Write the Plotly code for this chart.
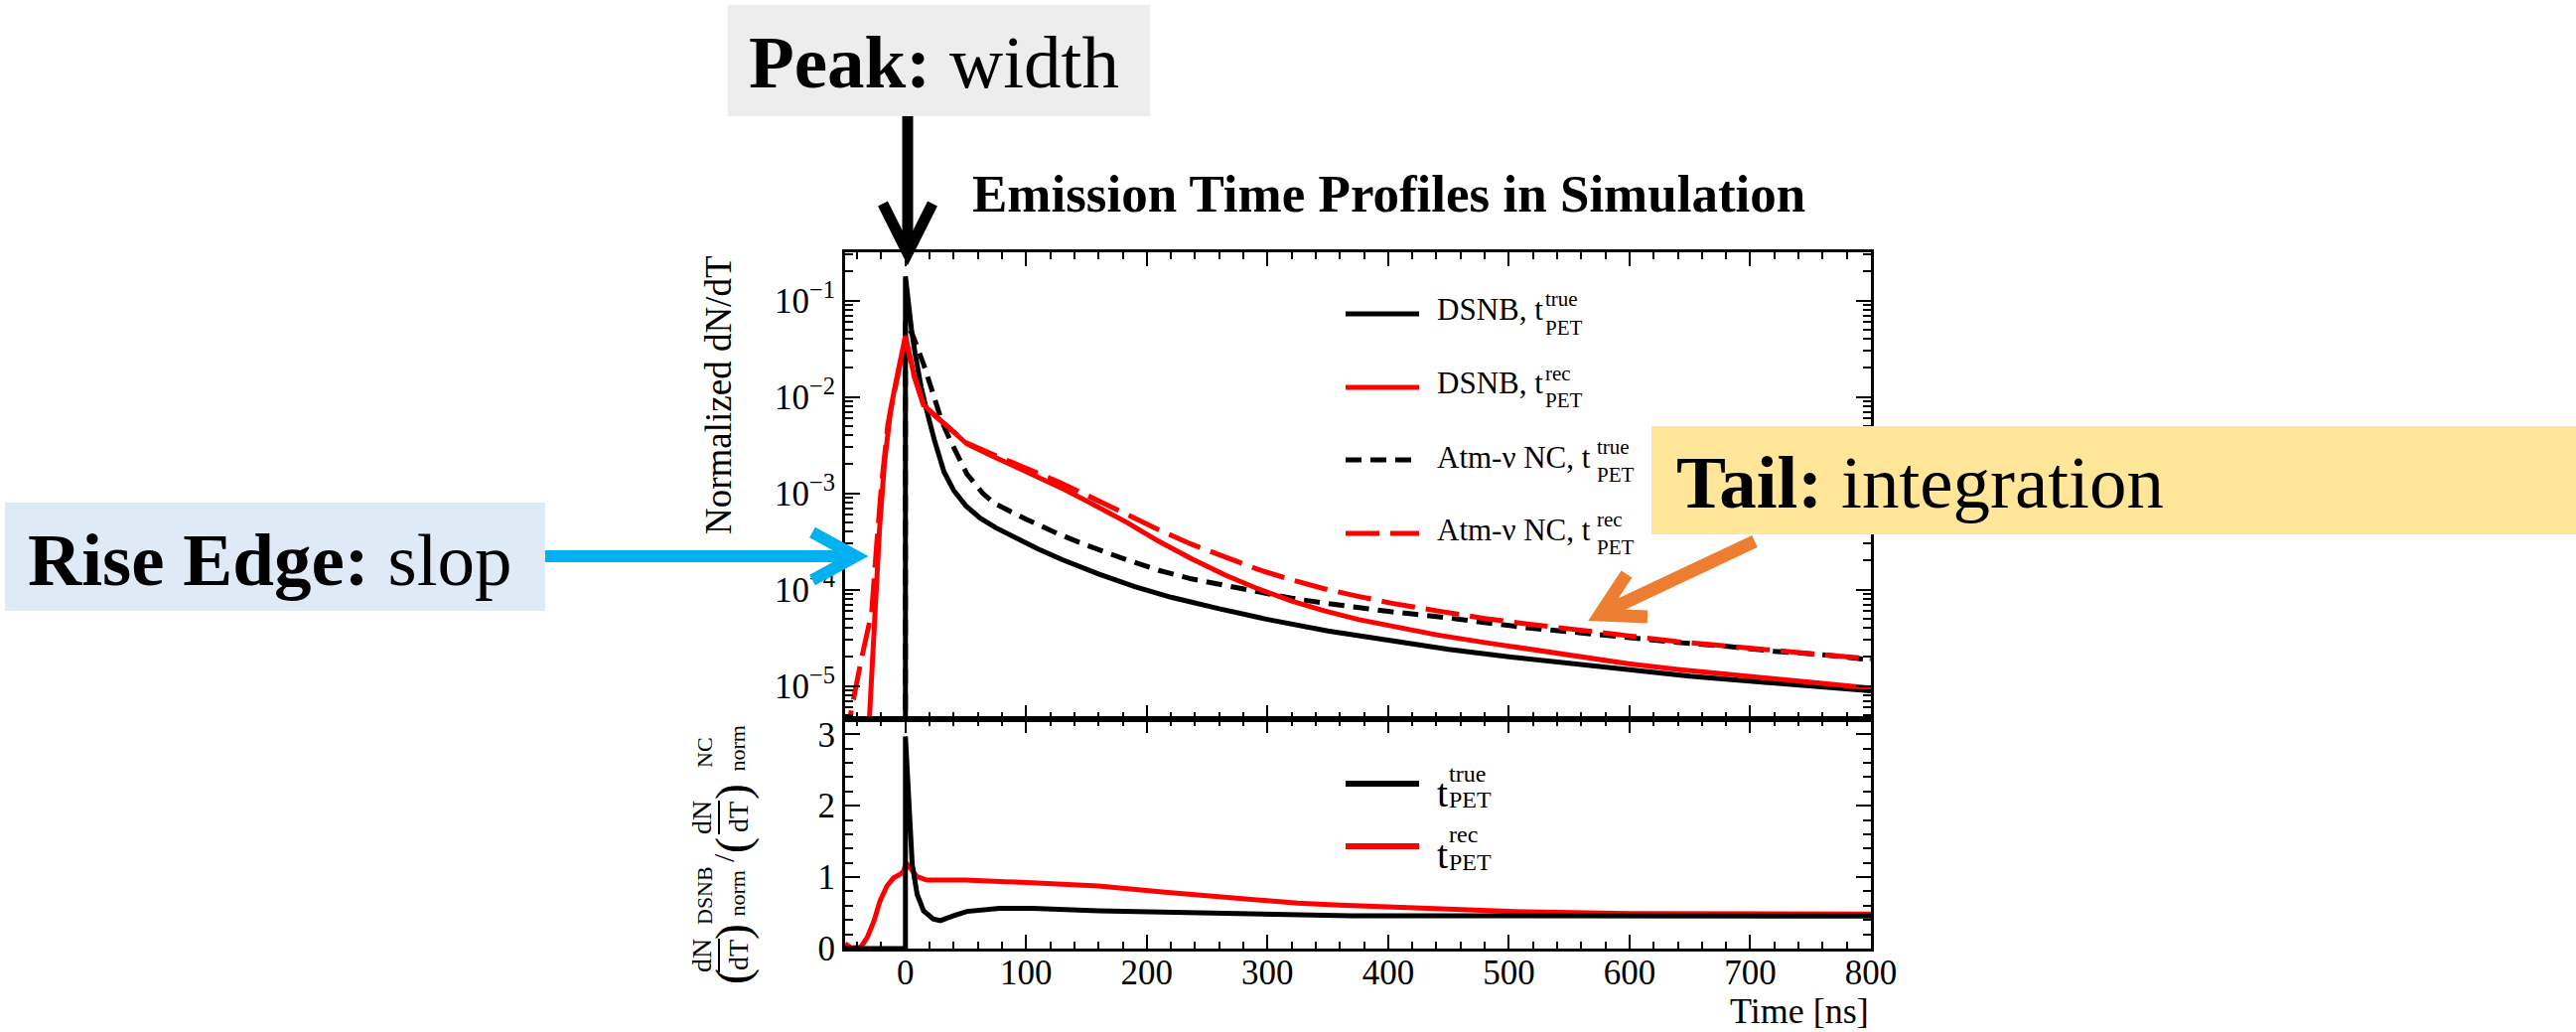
import plotly.graph_objects as go

# ---------------- data ----------------
# upper panel: normalized dN/dT (log scale); 1e-9 marks "zero" (below axis floor)
t_dsnb_true = [-50, 0, 0, 2.5, 5, 8, 13, 18, 24, 32, 40, 50, 62, 75, 90, 110, 130, 160, 190,
               220, 260, 300, 350, 400, 450, 500, 550, 600, 650, 700, 750, 800]
dsnb_true = [1e-9, 1e-9, 0.178, 0.0891, 0.0501, 0.0282, 0.0126, 0.00692, 0.00355, 0.00166,
             0.00107, 7.41e-4, 5.50e-4, 4.37e-4, 3.47e-4, 2.63e-4, 2.04e-4, 1.45e-4, 1.07e-4,
             8.32e-5, 6.31e-5, 4.90e-5, 3.72e-5, 2.95e-5, 2.40e-5, 2.0e-5, 1.70e-5, 1.45e-5,
             1.26e-5, 1.12e-5, 1.0e-5, 8.9e-6]

t_dsnb_rec = [-31, -25.5, -21.5, -17.5, -12, -6, 0, 7, 15, 19, 32, 51, 73, 90, 110, 128, 150,
              183, 210, 237, 265, 292, 320, 347, 375, 402, 440, 480, 517, 560, 599, 640, 681,
              720, 763, 800]
dsnb_rec = [2.5e-6, 5.75e-5, 4.17e-4, 2.0e-3, 7.76e-3, 0.0186, 0.0427, 0.0170, 8.32e-3, 7.41e-3,
            5.25e-3, 3.24e-3, 2.40e-3, 1.91e-3, 1.48e-3, 1.15e-3, 8.32e-4, 5.01e-4, 3.16e-4,
            2.09e-4, 1.41e-4, 1.02e-4, 7.59e-5, 6.03e-5, 4.90e-5, 4.17e-5, 3.39e-5, 2.82e-5,
            2.40e-5, 2.0e-5, 1.70e-5, 1.48e-5, 1.32e-5, 1.17e-5, 1.05e-5, 9.5e-6]

t_nc_true = [-50, 0, 0, 3, 7, 15, 23, 30, 37, 45, 51, 64, 73, 84, 100, 128, 150, 183, 210, 237,
             265, 292, 320, 347, 375, 402, 440, 480, 517, 560, 599, 640, 681, 720, 763, 800]
nc_true = [1e-9, 1e-9, 0.06, 0.0525, 0.0407, 0.0219, 0.0107, 5.62e-3, 3.55e-3, 2.24e-3, 1.58e-3,
           1.0e-3, 7.94e-4, 6.76e-4, 5.37e-4, 3.72e-4, 2.88e-4, 2.04e-4, 1.58e-4, 1.29e-4,
           1.10e-4, 9.33e-5, 8.13e-5, 7.24e-5, 6.46e-5, 5.89e-5, 5.25e-5, 4.57e-5, 3.98e-5,
           3.55e-5, 3.16e-5, 2.82e-5, 2.57e-5, 2.29e-5, 2.09e-5, 1.86e-5]

t_nc_rec = [-48, -46, -36.5, -28, -24, -20, -14.5, -9, -5, 0, 7, 15, 20, 32, 51, 73, 90, 110,
            128, 150, 183, 210, 237, 265, 292, 320, 347, 375, 402, 440, 480, 517, 560, 599, 640,
            681, 720, 763, 800]
nc_rec = [2.5e-6, 4.7e-6, 1.9e-5, 5.75e-5, 2.75e-4, 1.15e-3, 5.25e-3, 0.0112, 0.0209, 0.0407,
          0.0166, 8.13e-3, 7.08e-3, 5.25e-3, 3.31e-3, 2.51e-3, 2.04e-3, 1.62e-3, 1.29e-3,
          9.55e-4, 6.03e-4, 4.17e-4, 2.95e-4, 2.14e-4, 1.62e-4, 1.26e-4, 1.02e-4, 8.51e-5,
          7.24e-5, 6.03e-5, 5.01e-5, 4.37e-5, 3.72e-5, 3.31e-5, 2.88e-5, 2.57e-5, 2.29e-5,
          2.09e-5, 1.91e-5]

# lower panel: ratio DSNB / NC
t_ratio_true = [-50, 0, 0, 3, 5.6, 9.7, 15, 23, 29, 40, 51, 78, 105, 160, 215, 270, 325, 369,
                450, 500, 600, 700, 800]
ratio_true = [0, 0, 2.97, 1.87, 1.18, 0.76, 0.53, 0.415, 0.39, 0.46, 0.52, 0.563, 0.563, 0.53,
              0.51, 0.484, 0.47, 0.46, 0.46, 0.46, 0.455, 0.455, 0.455]

t_ratio_rec = [-50, -45, -37, -31.5, -26, -21, -15.3, -9.8, -4.4, -1.6, 0.6, 3.9, 9.4, 17.6, 50,
               105, 160, 215, 270, 325, 360, 400, 500, 600, 700, 800]
ratio_rec = [0.07, 0.01, 0.02, 0.16, 0.39, 0.67, 0.876, 0.99, 1.04, 1.08, 1.20, 1.13, 1.01, 0.96,
             0.96, 0.92, 0.876, 0.79, 0.715, 0.636, 0.61, 0.58, 0.52, 0.49, 0.495, 0.484]

x_major = [0, 100, 200, 300, 400, 500, 600, 700, 800]
log_major = [1e-5, 1e-4, 1e-3, 1e-2, 1e-1]
log_major_text = ["10<sup>\u22125</sup>", "10<sup>\u22124</sup>", "10<sup>\u22123</sup>",
                  "10<sup>\u22122</sup>", "10<sup>\u22121</sup>"]
ratio_major = [0, 1, 2, 3]

# ---------------- layout geometry ----------------
W, H = 2594, 1039
L, R, T, B = 851, 710, 254, 84
SPLIT = 0.3295
SERIF = "Liberation Serif, 'Times New Roman', Times, serif"


def px(X):
    return (X - L) / (W - L - R)


def py(Y):
    return (H - B - Y) / (H - T - B)


fig = go.Figure()

fig.add_trace(go.Scatter(x=t_dsnb_true, y=dsnb_true, mode="lines", xaxis="x", yaxis="y",
                         line=dict(color="black", width=5), showlegend=False))
fig.add_trace(go.Scatter(x=t_nc_true, y=nc_true, mode="lines", xaxis="x", yaxis="y",
                         line=dict(color="black", width=5, dash="16px,9px"), showlegend=False))
fig.add_trace(go.Scatter(x=t_nc_rec, y=nc_rec, mode="lines", xaxis="x", yaxis="y",
                         line=dict(color="#ff0000", width=5, dash="34px,11px"), showlegend=False))
fig.add_trace(go.Scatter(x=t_dsnb_rec, y=dsnb_rec, mode="lines", xaxis="x", yaxis="y",
                         line=dict(color="#ff0000", width=5), showlegend=False))

fig.add_trace(go.Scatter(x=t_ratio_rec, y=ratio_rec, mode="lines", xaxis="x2", yaxis="y2",
                         line=dict(color="#ff0000", width=5), showlegend=False))
fig.add_trace(go.Scatter(x=t_ratio_true, y=ratio_true, mode="lines", xaxis="x2", yaxis="y2",
                         line=dict(color="black", width=5), showlegend=False))

minor_log = [k * 10.0 ** e for e in range(-6, 0) for k in range(2, 10)]

axis_common = dict(showline=True, linewidth=3, linecolor="black", mirror="allticks",
                   ticks="inside", tickwidth=2, tickcolor="black", showgrid=False,
                   zeroline=False, tickfont=dict(family=SERIF, size=35, color="black"))

fig.update_layout(
    width=W, height=H,
    margin=dict(l=L, r=R, t=T, b=B, autoexpand=False),
    paper_bgcolor="white", plot_bgcolor="white",
    xaxis=dict(domain=[0, 1], anchor="y", range=[-50, 800], tickvals=x_major, ticklen=14,
               showticklabels=False,
               minor=dict(ticks="inside", ticklen=7, tickwidth=2, dtick=20, tick0=0,
                          tickcolor="black"),
               **axis_common),
    yaxis=dict(domain=[SPLIT, 1], anchor="x", type="log", range=[-5.345, -0.5],
               tickvals=log_major, ticktext=log_major_text, ticklen=15,
               minor=dict(ticks="inside", ticklen=8, tickwidth=2, tickvals=minor_log,
                          tickcolor="black"),
               **axis_common),
    xaxis2=dict(domain=[0, 1], anchor="y2", range=[-50, 800], tickvals=x_major, ticklen=14,
                ticklabelstandoff=-9,
                minor=dict(ticks="inside", ticklen=7, tickwidth=2, dtick=20, tick0=0,
                           tickcolor="black"),
                **axis_common),
    yaxis2=dict(domain=[0, SPLIT], anchor="x2", range=[0, 3.213], tickvals=ratio_major,
                ticklen=15,
                minor=dict(ticks="inside", ticklen=8, tickwidth=2, dtick=0.2, tick0=0,
                           tickcolor="black"),
                **axis_common),
)

ann = []
shapes = []


def txt(s, X, Y, size, xanchor="left", angle=0, color="black"):
    ann.append(dict(text=s, x=px(X), y=py(Y), xref="paper", yref="paper", xanchor=xanchor,
                    yanchor="middle", showarrow=False, textangle=angle,
                    font=dict(family=SERIF, size=size, color=color)))


def rect(x0, y0, x1, y1, color):
    shapes.append(dict(type="rect", xref="paper", yref="paper", x0=px(x0), x1=px(x1),
                       y0=py(y1), y1=py(y0), fillcolor=color, line=dict(width=0),
                       layer="above"))


def seg(pts, color, width, dash="solid"):
    path = "M " + " L ".join(f"{px(a):.5f},{py(b):.5f}" for a, b in pts)
    shapes.append(dict(type="path", xref="paper", yref="paper", path=path,
                       line=dict(color=color, width=width, dash=dash), layer="above"))


# title and axis titles
txt("<b>Emission Time Profiles in Simulation</b>", 1398, 195, 53, xanchor="center")
txt("Normalized dN/dT", 723, 398, 37, xanchor="center", angle=-90)
txt("Time [ns]", 1884, 1018, 36, xanchor="right")

# ratio y title composed of pieces
for yc, big in [(983, "("), (938, ")"), (851, "("), (797, ")")]:
    txt(big, 738, yc, 48, xanchor="center", angle=-90)
for yc in (962, 823):
    txt("dN", 706, yc, 28, xanchor="center", angle=-90)
    txt("dT", 743, yc, 28, xanchor="center", angle=-90)
    seg([(724, yc - 17), (724, yc + 17)], "black", 2)
txt("DSNB", 709, 902, 22, xanchor="center", angle=-90)
txt("norm", 741.5, 900, 22, xanchor="center", angle=-90)
txt("/", 728, 864, 30, xanchor="center", angle=-90)
txt("NC", 709, 758, 22, xanchor="center", angle=-90)
txt("norm", 741.5, 754, 22, xanchor="center", angle=-90)

# upper legend
leg = [
    ("DSNB, t", "true", "black", "solid", 316, 311.5, 301, 329.5, 1554),
    ("DSNB, t", "rec", "#ff0000", "solid", 390, 385, 376, 403, 1554),
    ("Atm-\u03bd NC, t", "true", "black", "16px,9px", 463, 460, 449.5, 478, 1606),
    ("Atm-\u03bd NC, t", "rec", "#ff0000", "34px,11px", 537, 533, 523, 551, 1606),
]
for main, sup, col, dash, yl, ym, ysup, ysub, xs in leg:
    seg([(1355, yl), (1429, yl)], col, 5, dash)
    txt(main, 1445, ym, 31)
    txt(sup, xs, ysup, 21)
    txt("PET", xs, ysub, 21)

# lower legend
for sup, col, yl, ym, ysup, ysub in [("true", "black", 789, 798, 779, 805),
                                     ("rec", "#ff0000", 852, 860, 840, 868)]:
    seg([(1355, yl), (1429, yl)], col, 6)
    txt("t", 1445, ym, 40)
    txt(sup, 1457, ysup, 24)
    txt("PET", 1457, ysub, 24)

# callout boxes
rect(733, 5, 1158, 117, "#EDEDED")
rect(5, 506, 549, 615, "#DEEBF7")
rect(1663, 429, 2594, 538, "#FFE699")
txt("<b>Peak:</b> width", 752, 62, 75)
txt("<b>Rise Edge:</b> slop", 26, 563, 75)
txt("<b>Tail:</b> integration", 1686, 485, 75)

# arrows
seg([(914, 117), (914, 250)], "black", 11)
seg([(889, 205), (914, 255), (939, 205)], "black", 11)
seg([(549, 560), (860, 560)], "#00B0F0", 12)
seg([(818, 536), (862, 560), (818, 584)], "#00B0F0", 12)
seg([(1767, 545), (1614, 617)], "#ED7D31", 13)
seg([(1638, 578), (1611, 619), (1659, 621)], "#ED7D31", 13)

fig.update_layout(annotations=ann, shapes=shapes)
fig.write_html("out.html")
